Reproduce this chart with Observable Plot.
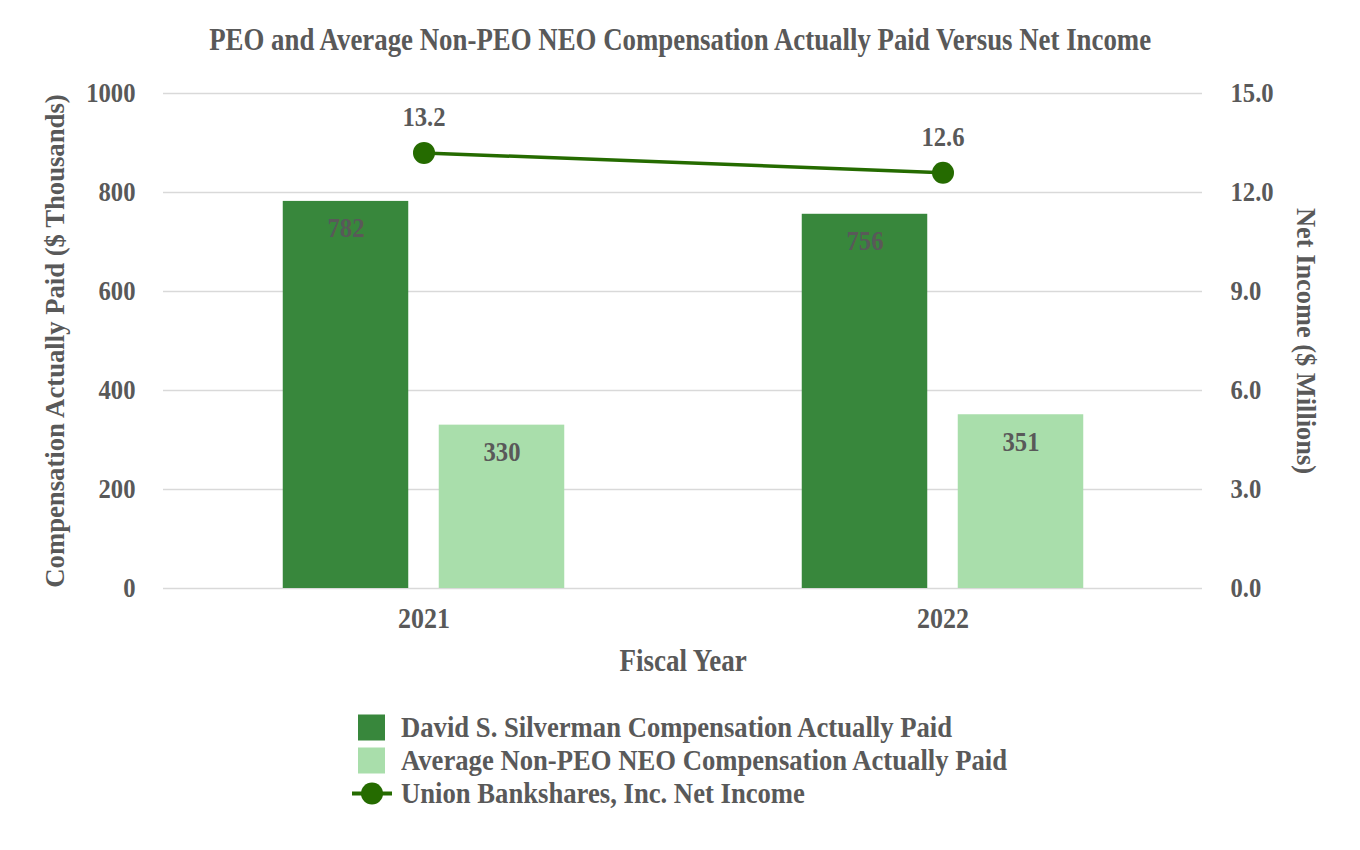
<!DOCTYPE html>
<html>
<head>
<meta charset="utf-8">
<script src="https://cdn.jsdelivr.net/npm/d3@7"></script>
<script src="https://cdn.jsdelivr.net/npm/@observablehq/plot@0.6"></script>
<style>
  body { margin: 0; background: #fff; font-family: "Liberation Serif", "Times New Roman", serif; color: #595959; }
  #title { position: relative; z-index: 1; height: 40px; padding-top: 10px; line-height: 60px; box-sizing: content-box;
           text-align: center; font-weight: bold; font-size: 30.5px; white-space: nowrap; }
  #title span { display: inline-block; transform: scaleX(0.88); transform-origin: center; }
  #legend { padding-top: 23px; padding-left: 352px; font-weight: bold; font-size: 30.3px; }
  .item { display: flex; align-items: center; height: 33px; white-space: nowrap; }
  .item svg { width: 40px; height: 33px; margin-right: 9px; flex: none; }
  .item span { display: inline-block; transform: scaleX(0.88); transform-origin: left center; }
</style>
</head>
<body>
<div id="title"><span>PEO and Average Non-PEO NEO Compensation Actually Paid Versus Net Income</span></div>
<div id="chart"></div>
<div id="legend"></div>
<script>
// Fiscal years and the three series
const years = ["2021", "2022"];
const peoPay = [782, 756];          // $ thousands
const neoPay = [330, 351];          // $ thousands
const netIncome = [13.2, 12.6];     // $ millions
const seriesNames = [
  "David S. Silverman Compensation Actually Paid",
  "Average Non-PEO NEO Compensation Actually Paid",
  "Union Bankshares, Inc. Net Income"
];
const leftTicks = [0, 200, 400, 600, 800, 1000];
const rightTicks = [0, 3, 6, 9, 12, 15];
const leftMax = 1000, rightMax = 15;

const colors = { peo: "#38873c", neo: "#a9deab", line: "#256b00", text: "#595959", grid: "#d9d9d9" };

// Net income is drawn against the left scale, rescaled to the right axis range
const toLeft = v => v * leftMax / rightMax;

const peoRows = years.map((y, i) => ({ year: y, value: peoPay[i] }));
const neoRows = years.map((y, i) => ({ year: y, value: neoPay[i] }));
const niRows = years.map((y, i) => ({ year: y, value: netIncome[i], scaled: toLeft(netIncome[i]) }));

const W = 1360, mL = 163, mR = 158, mT = 43, mB = 100, H = 638;
const band = (W - mL - mR) / years.length;
const barW = 126, offset = 78;
const inset = (band - barW) / 2;
const fs = 28;          // tick and value labels
const narrow = 0.88;    // horizontal condensing of the serif face

const chart = Plot.plot({
  width: W, height: H,
  marginLeft: mL, marginRight: mR, marginTop: mT, marginBottom: mB,
  style: { fontFamily: "'Liberation Serif', 'Times New Roman', serif", fontWeight: "bold", fontSize: fs + "px", color: colors.text, background: "transparent" },
  x: { type: "band", domain: years, padding: 0 },
  y: { domain: [0, leftMax] },
  marks: [
    Plot.gridY(leftTicks, { stroke: colors.grid, strokeOpacity: 1, strokeWidth: 1.5 }),
    Plot.barY(peoRows, { x: "year", y: "value", fill: colors.peo, dx: -offset, insetLeft: inset, insetRight: inset }),
    Plot.barY(neoRows, { x: "year", y: "value", fill: colors.neo, dx: offset, insetLeft: inset, insetRight: inset }),
    Plot.text(peoRows, { x: "year", y: "value", text: d => String(d.value), dx: -offset, dy: 27, fill: colors.text, fontSize: fs, fontWeight: "bold" }),
    Plot.text(neoRows, { x: "year", y: "value", text: d => String(d.value), dx: offset, dy: 27, fill: colors.text, fontSize: fs, fontWeight: "bold" }),
    Plot.line(niRows, { x: "year", y: "scaled", stroke: colors.line, strokeWidth: 3.5 }),
    Plot.dot(niRows, { x: "year", y: "scaled", r: 11, fill: colors.line, stroke: "none" }),
    Plot.text(niRows, { x: "year", y: "scaled", text: d => d.value.toFixed(1), dy: -36, fill: colors.text, fontSize: fs, fontWeight: "bold" }),
    Plot.axisY(leftTicks, { anchor: "left", tickSize: 0, tickPadding: 28, label: null, fontSize: fs, tickFormat: d => String(d) }),
    Plot.axisY(rightTicks.map(toLeft), { anchor: "right", tickSize: 0, tickPadding: 28, label: null, fontSize: fs,
      tickFormat: d => (d * rightMax / leftMax).toFixed(1) }),
    Plot.axisX({ tickSize: 0, tickPadding: 19, label: null, fontSize: 29.5 }),
    Plot.text(["Compensation Actually Paid ($ Thousands)"], { frameAnchor: "left", dx: -108, rotate: -90, textAnchor: "middle", lineAnchor: "middle", fill: colors.text, fontSize: 26.7, fontWeight: "bold", className: "axis-title" }),
    Plot.text(["Net Income ($ Millions)"], { frameAnchor: "right", dx: 103, rotate: 90, textAnchor: "middle", lineAnchor: "middle", fill: colors.text, fontSize: 26.4, fontWeight: "bold", className: "axis-title" }),
    Plot.text(["Fiscal Year"], { frameAnchor: "bottom", dy: 73, lineAnchor: "middle", fill: colors.text, fontSize: 30.7, fontWeight: "bold" })
  ]
});
document.getElementById("chart").appendChild(chart);

// Condense the horizontal labels, as in the original narrow bold serif
d3.select(chart).selectAll("text").each(function () {
  if (this.closest(".axis-title")) return;
  const len = this.getComputedTextLength();
  if (len > 0) {
    this.setAttribute("textLength", len * narrow);
    this.setAttribute("lengthAdjust", "spacingAndGlyphs");
  }
});

// Legend below the chart
const legend = d3.select("#legend");
const swatch = [colors.peo, colors.neo];
seriesNames.forEach((name, i) => {
  const item = legend.append("div").attr("class", "item");
  const svg = item.append("svg").attr("viewBox", "0 0 40 33");
  if (i < 2) {
    svg.append("rect").attr("x", 6).attr("y", 3.5).attr("width", 27).attr("height", 26).attr("fill", swatch[i]);
  } else {
    svg.append("line").attr("x1", 0).attr("x2", 40).attr("y1", 16.5).attr("y2", 16.5).attr("stroke", colors.line).attr("stroke-width", 4);
    svg.append("circle").attr("cx", 20).attr("cy", 16.5).attr("r", 11).attr("fill", colors.line);
  }
  item.append("span").text(name);
});
</script>
</body>
</html>
